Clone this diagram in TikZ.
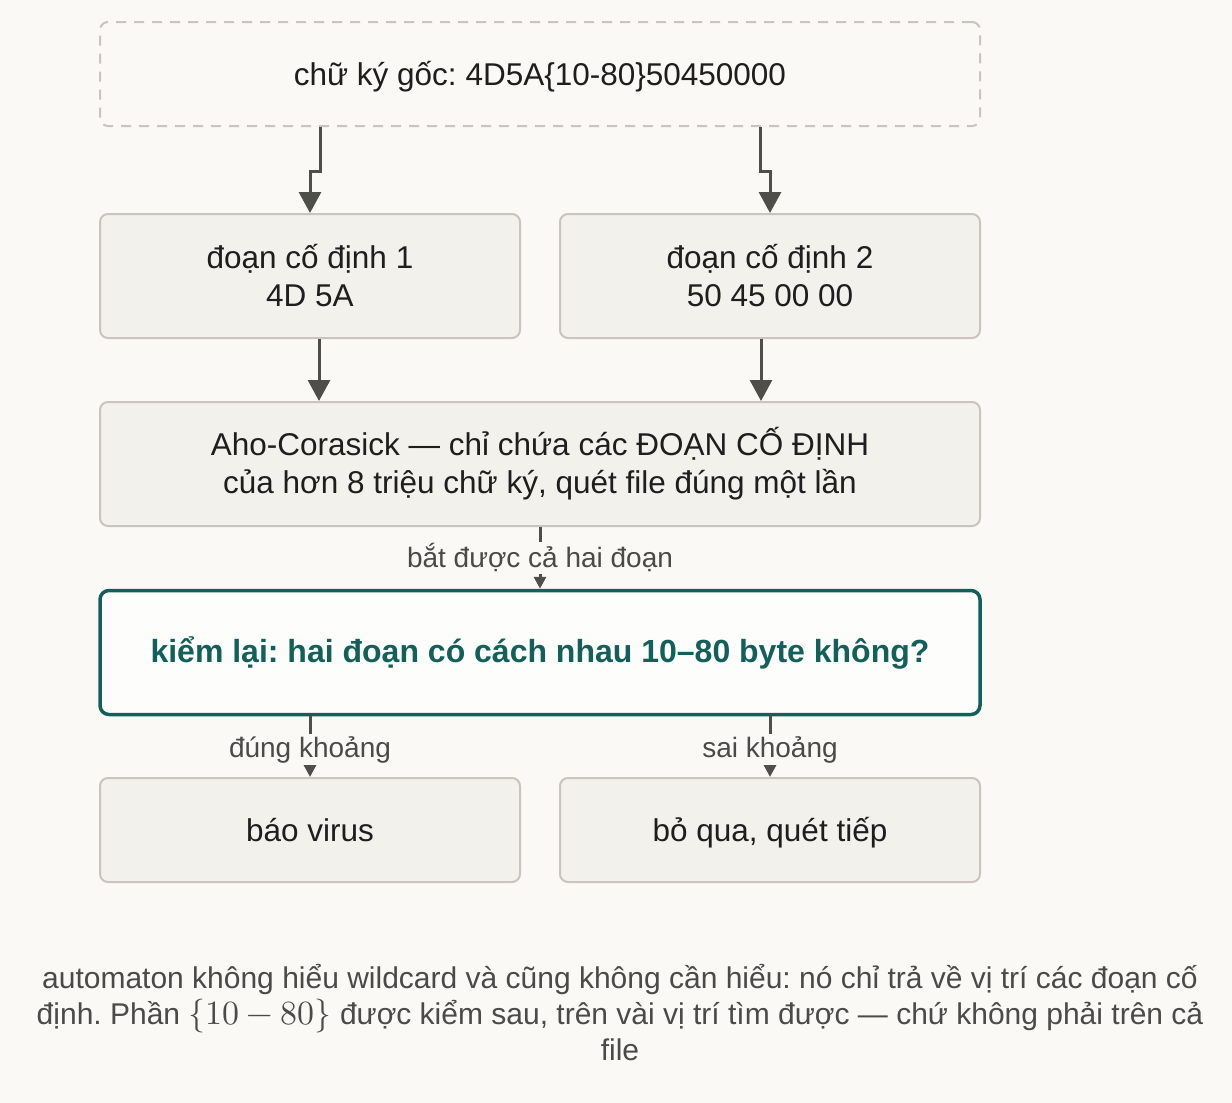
\documentclass[tikz,border=0pt]{standalone}
\usepackage{fontspec}
\usepackage{unicode-math}
\setmainfont{Liberation Sans}
\setmathfont{Latin Modern Math}[Scale=1.13]
\usetikzlibrary{arrows.meta,positioning,calc}
\definecolor{bg}{HTML}{FAF9F6}
\definecolor{boxfill}{HTML}{F2F1EC}
\definecolor{boxline}{HTML}{C9C5BD}
\definecolor{ink}{HTML}{1E1E1E}
\definecolor{arrowc}{HTML}{4F4F4A}
\definecolor{teal}{HTML}{13605A}
\definecolor{labc}{HTML}{4A4A48}
\frenchspacing
\tikzset{
  plainbox/.style={draw=boxline, line width=2pt, fill=boxfill, rounded corners=8pt,
    text=ink, align=center, inner sep=0pt, font=\fontsize{31.5}{38}\selectfont},
  oneline/.style={text height=25pt, text depth=3pt},
  dashbox/.style={plainbox, fill=bg, dash pattern=on 10pt off 8pt},
  checkbox/.style={draw=teal, line width=3.5pt, fill=white!60!bg, rounded corners=9pt,
    text=teal, align=center, inner sep=0pt, font=\fontsize{32}{38}\selectfont\bfseries},
  bigarrow/.style={draw=arrowc, line width=3pt, -{Triangle[length=21pt,width=22pt]}},
  smallarrow/.style={draw=arrowc, line width=3pt, -{Triangle[length=12pt,width=12pt]}},
  edgelabel/.style={fill=bg, text=labc, inner sep=2pt, font=\fontsize{28}{32}\selectfont},
  captionstyle/.style={text=labc, align=center, inner sep=0pt, font=\fontsize{30}{36}\selectfont}
}
\begin{document}
\begin{tikzpicture}[x=1pt,y=-1pt]
\fill[bg] (0,0) rectangle (1232,1103);
\useasboundingbox (0,0) rectangle (1232,1103);

\node[dashbox, oneline, minimum width=880pt, minimum height=104pt] (sig) at (540,74) {chữ ký gốc: 4D5A\{10-80\}50450000};

\node[plainbox, minimum width=420pt, minimum height=124pt] (seg1) at (310,276) {đoạn cố định 1\\4D 5A};
\node[plainbox, minimum width=420pt, minimum height=124pt] (seg2) at (770,276) {đoạn cố định 2\\50 45 00 00};

\node[plainbox, minimum width=880pt, minimum height=124pt] (aho) at (540,464) {Aho-Corasick — chỉ chứa các ĐOẠN CỐ ĐỊNH\\của hơn 8 triệu chữ ký, quét file đúng một lần};

\node[checkbox, minimum width=880pt, minimum height=124pt] (check) at (540,652.5) {kiểm lại: hai đoạn có cách nhau 10–80 byte không?};

\node[plainbox, oneline, minimum width=420pt, minimum height=104pt] (virus) at (310,830) {báo virus};
\node[plainbox, oneline, minimum width=420pt, minimum height=104pt] (skip) at (770,830) {bỏ qua, quét tiếp};

\node[captionstyle] (cap) at (620,1013) {automaton không hiểu wildcard và cũng không cần hiểu: nó chỉ trả về vị trí các đoạn cố\\định. Phần $\{10-80\}$ được kiểm sau, trên vài vị trí tìm được — chứ không phải trên cả\\file};

% top arrows with jog
\draw[bigarrow] (sig.south -| 320,0) -- ++(0,44) -| (seg1.north);
\draw[bigarrow] (sig.south -| 760,0) -- ++(0,44) -| (seg2.north);

% segments to aho
\draw[bigarrow] (seg1.south -| 319,0) -- (aho.north -| 319,0);
\draw[bigarrow] (seg2.south -| 761,0) -- (aho.north -| 761,0);

% aho to check
\draw[smallarrow] (aho.south) -- node[edgelabel] (l1) {bắt được cả hai đoạn} (check.north);

% check to results
\draw[smallarrow] (check.south -| virus.north) -- node[edgelabel, yshift=-3pt] (l2) {đúng khoảng} (virus.north);
\draw[smallarrow] (check.south -| skip.north) -- node[edgelabel, yshift=-3pt] (l3) {sai khoảng} (skip.north);
\end{tikzpicture}
\end{document}
